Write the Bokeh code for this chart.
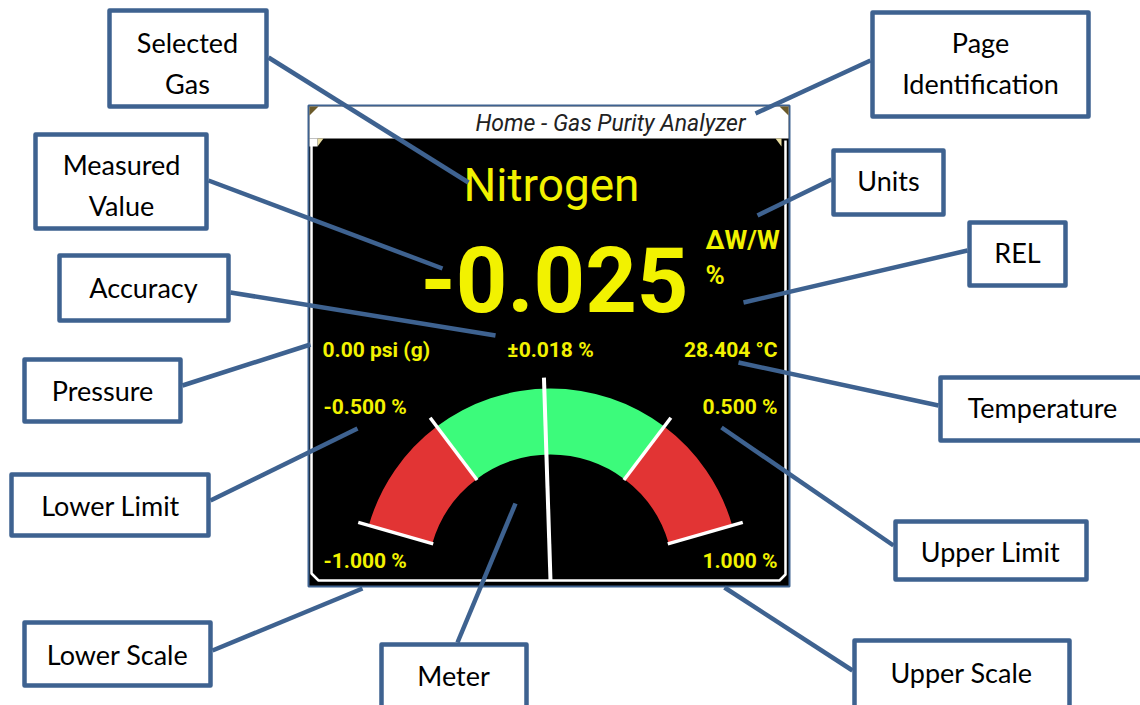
import math
from bokeh.plotting import figure
from bokeh.models import Range1d
from bokeh.embed import file_html
from bokeh.resources import INLINE
from bokeh.core.properties import value

# ---------------- data ----------------
page_title = "Home - Gas Purity Analyzer"
gas_name = "Nitrogen"
measured_value = -0.025
units_text = "ΔW/W"
rel_text = "%"
accuracy_pct = 0.018
pressure_psig = 0.00
temperature_c = 28.404
scale_min, scale_max = -1.000, 1.000
limit_low, limit_high = -0.500, 0.500

callout_labels = ["Selected\nGas", "Measured\nValue", "Accuracy", "Pressure",
                  "Lower Limit", "Lower Scale", "Meter", "Page\nIdentification",
                  "Units", "REL", "Temperature", "Upper Limit", "Upper Scale"]

# ---------------- layout (image pixels, y downward) ----------------
box_l = [107, 33, 57, 22, 9, 22, 379, 870, 831, 967, 938, 893, 852]
box_t = [8, 132, 253, 357, 472, 620, 642, 10, 148, 220, 375, 519, 638]
box_r = [268, 208, 230, 182, 210, 212, 528, 1090, 945, 1067, 1150, 1088, 1071]
box_b = [108, 230, 322, 423, 537, 687, 715, 118, 216, 287, 442, 581, 715]
lab_x = [187, 121, 143, 102, 110, 117, 453, 980, 888, 1017, 1042, 990, 961]
lab_y = [62, 184, 286, 389, 504, 653, 674, 62, 179, 251, 406, 550, 671]
lead_x0 = [268, 208, 230, 182, 210, 212, 457, 870, 831, 967, 938, 893, 852]
lead_y0 = [57, 180, 292, 385, 500, 650, 642, 60, 179, 250, 405, 545, 670]
lead_x1 = [468, 442, 495, 310, 357, 362, 515, 755, 757, 743, 738, 721, 724]
lead_y1 = [182, 268, 335, 344, 428, 588, 503, 113, 215, 302, 362, 427, 587]

W, H = 1140, 705


def Y(v):
    return H - v


def base(y, size):
    # baseline position (image px) -> parameter that renders the baseline there
    return Y(y - 0.3 * size)


BLUE = "#3e6290"
YEL = "#f2f200"
GREEN = "#3cfb7b"
RED = "#e23434"
SCREEN_FONT = value("Roboto")
LABEL_FONT = value("Lato")

p = figure(width=W, height=H, x_range=Range1d(0, W), y_range=Range1d(0, H),
           output_backend="svg", toolbar_location=None, min_border=0,
           x_axis_type=None, y_axis_type=None)
p.grid.visible = False
p.outline_line_color = None
p.background_fill_color = "white"
p.border_fill_color = "white"

# ---------------- device screen ----------------
p.quad(left=[308], right=[789], top=[Y(105)], bottom=[Y(586)],
       fill_color="black", line_color=BLUE, line_width=2)
p.quad(left=[309], right=[788], top=[Y(106)], bottom=[Y(138)],
       fill_color="white", line_color=None)
p.patches(xs=[[309, 318, 309], [788, 779, 788], [317, 323, 317], [781, 775, 781]],
          ys=[[Y(106), Y(106), Y(115)], [Y(106), Y(106), Y(115)],
              [Y(138), Y(138), Y(146)], [Y(138), Y(138), Y(146)]],
          fill_color=["#6b5a2a", "#6b5a2a", "#e8dca0", "#e8dca0"], line_color=None)
p.line(x=[311, 311, 318, 779, 785, 785], y=[Y(140), Y(573), Y(580), Y(580), Y(574), Y(140)],
       line_color="white", line_width=2.5)
p.quad(left=[309], right=[317], top=[Y(138)], bottom=[Y(146)], fill_color="white", line_color=None)

p.text(x=[745], y=[base(130, 23)], text=[page_title], text_align="right",
       text_baseline="alphabetic", text_font=SCREEN_FONT, text_font_style="italic",
       text_font_size="23px", text_color="#222222")

# ---------------- gauge ----------------
cx, cy = 550, Y(577)
r_in, r_out, r_tick = 123, 189, 200
half_sweep = 74.0
mid = (scale_min + scale_max) / 2
half = (scale_max - scale_min) / 2


def ang(v):
    return math.radians(90 - (v - mid) / half * half_sweep)


seg_lo = [scale_min, limit_low, limit_high]
seg_hi = [limit_low, limit_high, scale_max]
p.annular_wedge(x=[cx] * 3, y=[cy] * 3, inner_radius=r_in, outer_radius=r_out,
                start_angle=[ang(v) for v in seg_hi], end_angle=[ang(v) for v in seg_lo],
                direction="anticlock", fill_color=[RED, GREEN, RED], line_color=None)

tick_vals = [scale_min, limit_low, limit_high, scale_max]
p.segment(x0=[cx + (r_in - 1) * math.cos(ang(v)) for v in tick_vals],
          y0=[cy + (r_in - 1) * math.sin(ang(v)) for v in tick_vals],
          x1=[cx + r_tick * math.cos(ang(v)) for v in tick_vals],
          y1=[cy + r_tick * math.sin(ang(v)) for v in tick_vals],
          line_color="white", line_width=3.5)

p.ray(x=[cx], y=[Y(580)], length=203, angle=[ang(measured_value)],
      line_color="white", line_width=4)

# ---------------- readings ----------------
p.text(x=[551], y=[base(198, 46)], text=[gas_name], text_align="center",
       text_baseline="alphabetic", text_font=SCREEN_FONT, text_font_size="46px",
       text_color=YEL)
p.text(x=[688], y=[base(306, 90)], text=[f"{measured_value:.3f}"], text_align="right",
       text_baseline="alphabetic", text_font=SCREEN_FONT, text_font_style="bold",
       text_font_size="90px", text_color=YEL)
p.text(x=[705, 705], y=[base(247, 26), base(282, 26)], text=[units_text, rel_text],
       text_align="left", text_baseline="alphabetic", text_font=SCREEN_FONT,
       text_font_style="bold", text_font_size="26px", text_color=YEL)

small_txt = [f"{pressure_psig:.2f} psi (g)", f"±{accuracy_pct:.3f} %", f"{temperature_c:.3f} °C",
             f"{limit_low:.3f} %", f"{limit_high:.3f} %",
             f"{scale_min:.3f} %", f"{scale_max:.3f} %"]
small_x = [322, 550, 777, 323, 777, 323, 777]
small_y = [356, 356, 356, 413, 413, 567, 567]
small_al = ["left", "center", "right", "left", "right", "left", "right"]
p.text(x=small_x, y=[base(v, 21) for v in small_y], text=small_txt, text_align=small_al,
       text_baseline="alphabetic", text_font=SCREEN_FONT, text_font_style="bold",
       text_font_size="21px", text_color=YEL)

# ---------------- callouts ----------------
p.segment(x0=lead_x0, y0=[Y(v) for v in lead_y0], x1=lead_x1, y1=[Y(v) for v in lead_y1],
          line_color=BLUE, line_width=4.5)
p.quad(left=[v + 2 for v in box_l], right=[v - 2 for v in box_r],
       top=[Y(v + 2) for v in box_t], bottom=[Y(v - 2) for v in box_b],
       fill_color="white", line_color=BLUE, line_width=4.5, line_join="round")

line_gap = 41
lt, lx, ly = [], [], []
for lab, x, y in zip(callout_labels, lab_x, lab_y):
    parts = lab.split("\n")
    n = len(parts)
    for i, part in enumerate(parts):
        lt.append(part)
        lx.append(x)
        ly.append(base(y + (i - (n - 1) / 2) * line_gap + 9, 27))
p.text(x=lx, y=ly, text=lt, text_align="center", text_baseline="alphabetic",
       text_font=LABEL_FONT, text_font_size="27px", text_color="black")

open("out.html", "w").write(file_html(p, INLINE))
